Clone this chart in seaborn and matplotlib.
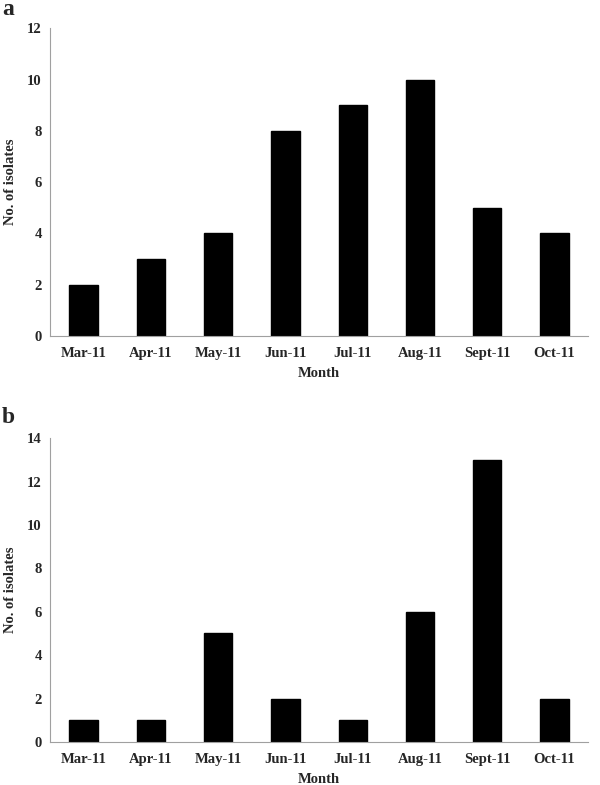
import matplotlib
matplotlib.use("Agg")
import matplotlib.pyplot as plt
import seaborn as sns
import pandas as pd
import numpy as np

# ── Data ─────────────────────────────────────────────────────────────────────
months = ["Mar-11", "Apr-11", "May-11", "Jun-11", "Jul-11", "Aug-11", "Sept-11", "Oct-11"]
isolates_a = [2, 3, 4, 8, 9, 10, 5, 4]
isolates_b = [1, 1, 5, 2, 1, 6, 13, 2]
yticks_a = [0, 2, 4, 6, 8, 10, 12]
yticks_b = [0, 2, 4, 6, 8, 10, 12, 14]

sns.set_style("white")
plt.rcParams["font.family"] = ["Liberation Serif", "DejaVu Serif"]
plt.rcParams["font.weight"] = "bold"

AXIS_GREY = "#a0a0a0"

fig = plt.figure(figsize=(6, 7.85), dpi=100)
ax_a = fig.add_axes([0.0833, 0.572, 0.897, 0.392])
ax_b = fig.add_axes([0.0833, 0.0548, 0.897, 0.387])


def draw_panel(ax, values, yticks):
    df = pd.DataFrame({"month": months, "n": values})
    sns.barplot(data=df, x="month", y="n", ax=ax, color="black",
                width=0.42, saturation=1, edgecolor="black")
    ax.set_xlim(-0.5, len(months) - 0.5)
    ax.set_ylim(yticks[0], yticks[-1])
    ax.set_yticks(yticks)
    ax.set_xticks(np.arange(-0.5, len(months)), minor=True)
    ax.tick_params(axis="x", which="major", length=0, pad=8, labelsize=10.5)
    ax.tick_params(axis="x", which="minor", length=3, color=AXIS_GREY, width=0.8)
    ax.tick_params(axis="y", length=3, color=AXIS_GREY, width=0.8, labelsize=10.5, pad=3)
    for lab in ax.get_xticklabels() + ax.get_yticklabels():
        lab.set_fontweight("bold")
    for side in ["top", "right"]:
        ax.spines[side].set_visible(False)
    for side in ["left", "bottom"]:
        ax.spines[side].set_color(AXIS_GREY)
        ax.spines[side].set_linewidth(0.8)
    ax.set_xlabel("Month", fontsize=10.5, fontweight="bold", labelpad=5)
    ax.set_ylabel("")
    ax.text(-0.085, 0.5, "No. of isolates", transform=ax.transAxes, rotation=90,
            fontsize=10.5, fontweight="bold", ha="left", va="center")


draw_panel(ax_a, isolates_a, yticks_a)
draw_panel(ax_b, isolates_b, yticks_b)

fig.text(0.003, 1 - 15 / 785, "a", fontsize=17, fontweight="bold", va="baseline", ha="left")
fig.text(0.003, 1 - 423 / 785, "b", fontsize=17, fontweight="bold", va="baseline", ha="left")

fig.savefig("out.png", dpi=100)
